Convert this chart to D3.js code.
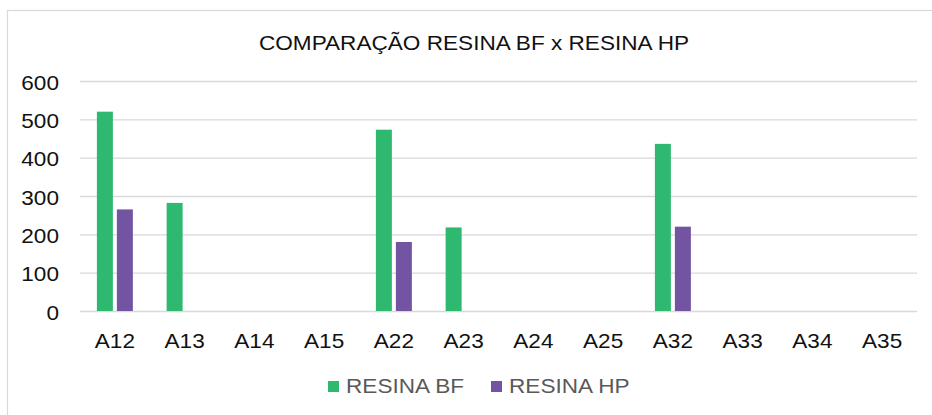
<!DOCTYPE html>
<html>
<head>
<meta charset="utf-8">
<script src="https://cdn.jsdelivr.net/npm/d3@7"></script>
<style>
  body { margin: 0; background: #fff; }
  text { font-family: "Liberation Sans", Arial, sans-serif; }
</style>
</head>
<body>
<div id="wrapper"></div>
<script>
// Data
const categories = ["A12", "A13", "A14", "A15", "A22", "A23", "A24", "A25", "A32", "A33", "A34", "A35"];
const resinaBF = [520, 282, 0, 0, 473, 218, 0, 0, 436, 0, 0, 0];
const resinaHP = [265, 0, 0, 0, 180, 0, 0, 0, 220, 0, 0, 0];
const seriesNames = ["RESINA BF", "RESINA HP"];
const yTicks = [0, 100, 200, 300, 400, 500, 600];
const titleText = "COMPARAÇÃO RESINA BF x RESINA HP";

const colors = ["#2fb870", "#7354a2"];
const stretch = 1.13; // text in the picture is a bit wide
const fontSize = "20px";

const width = 932;
const height = 415;
const plot = { left: 80, right: 917, top: 81, bottom: 311 };

const svg = d3
  .select("#wrapper")
  .append("svg")
  .attr("width", width)
  .attr("height", height);

// chart border (only top and left edges visible)
svg
  .append("rect")
  .attr("x", 7.5)
  .attr("y", 10.5)
  .attr("width", 1000)
  .attr("height", 1000)
  .attr("fill", "none")
  .attr("stroke", "#d9d9d9")
  .attr("stroke-width", 1.2);

// Scales
const xScale = d3
  .scaleBand()
  .domain(categories)
  .range([plot.left, plot.right])
  .paddingInner(0.484)
  .paddingOuter(0.242);
const xInner = d3
  .scaleBand()
  .domain(seriesNames)
  .range([0, xScale.bandwidth()])
  .paddingInner(0.2);
const yScale = d3.scaleLinear().domain([0, 600]).range([plot.bottom, plot.top]);

// Gridlines + y labels
const yAxis = svg
  .append("g")
  .attr("transform", `translate(${plot.left},0)`)
  .call(
    d3
      .axisLeft(yScale)
      .tickValues(yTicks)
      .tickSize(-(plot.right - plot.left))
      .tickPadding(0)
  );
yAxis.select(".domain").remove();
yAxis.selectAll(".tick line").attr("stroke", "#d9d9d9").attr("stroke-width", 1.4);
yAxis
  .selectAll(".tick text")
  .attr("x", 0)
  .attr("dy", "0.35em")
  .attr("transform", `translate(-21,1) scale(${stretch},1)`)
  .attr("fill", "#111")
  .style("font-size", fontSize);

// Bars
const table = categories.map((c, i) => ({
  category: c,
  values: [resinaBF[i], resinaHP[i]],
}));
const groups = svg
  .selectAll(".group")
  .data(table)
  .join("g")
  .attr("class", "group")
  .attr("transform", (d) => `translate(${xScale(d.category)},0)`);
groups
  .selectAll("rect")
  .data((d) => d.values.map((v, j) => ({ name: seriesNames[j], value: v, j })))
  .join("rect")
  .filter((d) => d.value > 0)
  .attr("x", (d) => xInner(d.name))
  .attr("y", (d) => yScale(d.value))
  .attr("width", xInner.bandwidth())
  .attr("height", (d) => yScale(0) - yScale(d.value))
  .attr("fill", (d) => colors[d.j]);

// X labels
const xAxis = svg
  .append("g")
  .attr("transform", `translate(0,${plot.bottom})`)
  .call(d3.axisBottom(xScale).tickSize(0).tickPadding(0));
xAxis.select(".domain").remove();
xAxis
  .selectAll(".tick text")
  .attr("y", 0)
  .attr("dy", 0)
  .attr("transform", `translate(0,37) scale(${stretch},1)`)
  .attr("fill", "#111")
  .style("font-size", fontSize);

// Title
svg
  .append("text")
  .attr("transform", `translate(474,50) scale(${stretch},1)`)
  .attr("text-anchor", "middle")
  .style("font-size", fontSize)
  .attr("fill", "#111")
  .text(titleText);

// Legend
const legendX = [328, 491];
const legend = svg
  .selectAll(".legend")
  .data(seriesNames)
  .join("g")
  .attr("class", "legend")
  .attr("transform", (d, i) => `translate(${legendX[i]},381)`);
legend
  .append("rect")
  .attr("width", 11)
  .attr("height", 11)
  .attr("fill", (d, i) => colors[i]);
legend
  .append("text")
  .attr("transform", `translate(18,12) scale(${stretch},1)`)
  .attr("fill", "#595959")
  .style("font-size", fontSize)
  .text((d) => d);
</script>
</body>
</html>
